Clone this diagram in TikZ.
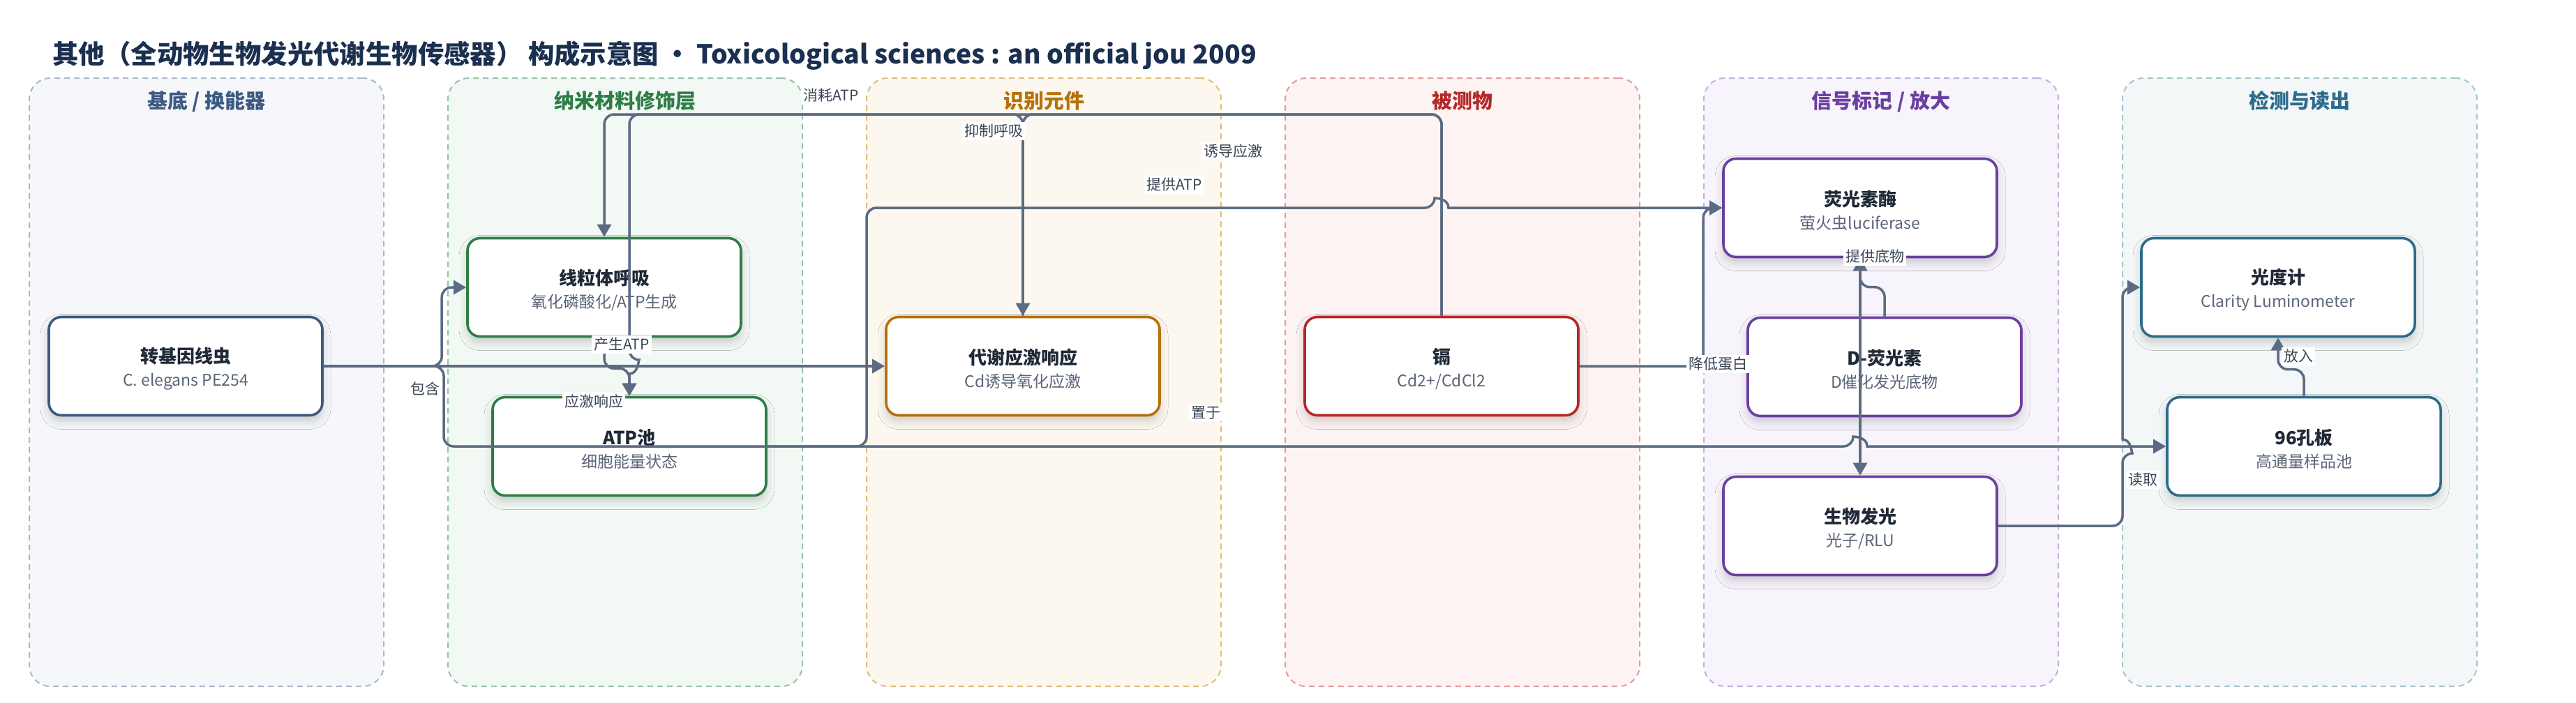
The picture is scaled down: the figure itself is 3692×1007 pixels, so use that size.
\documentclass[tikz,border=0pt]{standalone}
\usepackage{fontspec}
\setmainfont{Noto Sans CJK SC}
\usetikzlibrary{arrows.meta,calc,shadows.blur}
\definecolor{edgec}{HTML}{5B6B82}
\definecolor{titlec}{HTML}{1B3050}
\definecolor{txtdark}{HTML}{1F2937}
\definecolor{txtsub}{HTML}{5A6577}
\definecolor{lblc}{HTML}{3A4556}
% lane colours
\definecolor{aT}{HTML}{3D5A80}\definecolor{aB}{HTML}{A9B7CC}\definecolor{aF}{HTML}{F5F7FB}
\definecolor{bT}{HTML}{2E7D46}\definecolor{bB}{HTML}{96C3A6}\definecolor{bF}{HTML}{F2F8F4}
\definecolor{cT}{HTML}{B7700A}\definecolor{cB}{HTML}{E3BB78}\definecolor{cF}{HTML}{FDF8EF}
\definecolor{dT}{HTML}{B52828}\definecolor{dB}{HTML}{E39B9B}\definecolor{dF}{HTML}{FDF3F2}
\definecolor{eT}{HTML}{6B3FA0}\definecolor{eB}{HTML}{C5AEE0}\definecolor{eF}{HTML}{F7F4FB}
\definecolor{fT}{HTML}{2C6B8A}\definecolor{fB}{HTML}{A6C4CF}\definecolor{fF}{HTML}{F3F7F8}
\newcommand{\ntitle}[1]{{\fontsize{13}{16.5}\selectfont\bfseries\color{txtdark}\rule{0pt}{15pt}#1}}
\newcommand{\nsub}[1]{{\color{txtsub}#1}}
\begin{document}
\begin{tikzpicture}[x=0.5pt,y=-0.5pt,
  lanebox/.style 2 args={rectangle, rounded corners=15pt, dashed, dash pattern=on 4pt off 3pt,
     line width=1pt, draw=#2, fill=#1, minimum width=254pt, minimum height=436pt, inner sep=0pt},
  lanetitle/.style={anchor=base, font=\fontsize{14.5}{16}\selectfont\bfseries, text=#1},
  nodebox/.style={rectangle, rounded corners=9pt, draw=#1, line width=1.8pt, fill=white,
     minimum width=196pt, minimum height=70.5pt, align=center, inner sep=0pt,
     font=\fontsize{11.5}{16.5}\selectfont,
     blur shadow={shadow xshift=0pt, shadow yshift=-4pt, shadow blur radius=6pt, shadow opacity=18}},
  edge/.style={draw=edgec, line width=1.75pt, rounded corners=7pt, -{Triangle[width=10pt,length=9pt]}},
  elabel/.style={fill=white, inner sep=1.5pt, text=lblc, font=\fontsize{10.5}{12}\selectfont}
]
\useasboundingbox (0,0) rectangle (3692,1007);
\fill[white] (0,0) rectangle (3692,1007);

% title
\node[anchor=base west, font=\fontsize{18.7}{22}\selectfont\bfseries, text=titlec, inner sep=0pt] (title) at (75,91)
  {其他（全动物生物发光代谢生物传感器） 构成示意图 • Toxicological sciences : an official jou 2009};

% lanes
\node[lanebox={aF}{aB}] (lane1) at (296,548) {};
\node[lanebox={bF}{bB}] (lane2) at (896,548) {};
\node[lanebox={cF}{cB}] (lane3) at (1496,548) {};
\node[lanebox={dF}{dB}] (lane4) at (2096,548) {};
\node[lanebox={eF}{eB}] (lane5) at (2696,548) {};
\node[lanebox={fF}{fB}] (lane6) at (3296,548) {};
\node[lanetitle=aT] (lt1) at (296,155) {基底 / 换能器};
\node[lanetitle=bT] (lt2) at (896,155) {纳米材料修饰层};
\node[lanetitle=cT] (lt3) at (1496,155) {识别元件};
\node[lanetitle=dT] (lt4) at (2096,155) {被测物};
\node[lanetitle=eT] (lt5) at (2696,155) {信号标记 / 放大};
\node[lanetitle=fT] (lt6) at (3296,155) {检测与读出};

% nodes
\node[nodebox=aT] (worm) at (266,525) {\ntitle{转基因线虫}\\\nsub{C. elegans PE254}};
\node[nodebox=bT] (mito) at (866,412) {\ntitle{线粒体呼吸}\\\nsub{氧化磷酸化/ATP生成}};
\node[nodebox=bT] (atp) at (902,640) {\ntitle{ATP池}\\\nsub{细胞能量状态}};
\node[nodebox=cT] (stress) at (1466,525) {\ntitle{代谢应激响应}\\\nsub{Cd诱导氧化应激}};
\node[nodebox=dT] (cd) at (2066,525) {\ntitle{镉}\\\nsub{Cd2+/CdCl2}};
\node[nodebox=eT] (luc) at (2666,298) {\ntitle{荧光素酶}\\\nsub{萤火虫luciferase}};
\node[nodebox=eT] (dluc) at (2701,526) {\ntitle{D-荧光素}\\\nsub{D催化发光底物}};
\node[nodebox=eT] (gen) at (2666,754) {\ntitle{生物发光}\\\nsub{光子/RLU}};
\node[nodebox=fT] (photo) at (3265,412) {\ntitle{光度计}\\\nsub{Clarity Luminometer}};
\node[nodebox=fT] (plate) at (3302,640) {\ntitle{96孔板}\\\nsub{高通量样品池}};

\coordinate (ty) at (0,164);

% edges
\draw[edge] (worm.east) -| ($(mito.west)+(-35,0)$) -- (mito.west);
\draw[edge] (worm.east) -- (stress.west);
\draw[edge] (worm.east) -| (636,640) -- (2656,640) [sharp corners]
   .. controls (2656,626) and (2676,626) .. (2676,640) -- (plate.west);
\draw[edge] (mito.south) -- ++(0,44) -| (atp.north);
\draw[edge] (stress.north) -- (stress.north |- ty) -| (902,516) [sharp corners]
   .. controls (915,516) and (915,536) .. (902,536) -- (atp.north);
\draw[edge] (cd.north) -- (cd.north |- ty) -| (mito.north);
\draw[edge] (cd.north) -- (cd.north |- ty) -| (stress.north);
\draw[edge] (atp.east) -| (1242,298) -- (2056,298) [sharp corners]
   .. controls (2056,284) and (2076,284) .. (2076,298) -- (luc.west);
\draw[edge] (cd.east) -| ($(luc.west)+(-27,0)$) -- (luc.west);
\draw[edge] (dluc.north) -- ++(0,-42) -| (luc.south);
\draw[edge] (luc.south) -- (gen.north);
\draw[edge] (gen.east) -| (3042,650) [sharp corners]
   .. controls (3055,650) and (3055,630) .. (3042,630) [rounded corners=7pt] |- (photo.west);
\draw[edge] (plate.north) -- ++(0,-38) -| (photo.south);

% edge labels
\node[elabel] (l1) at (609,557) {包含};
\node[elabel] (l2) at (891,494) {产生ATP};
\node[elabel] (l3) at (851,575) {应激响应};
\node[elabel] (l4) at (1191,137) {消耗ATP};
\node[elabel] (l5) at (1424,188) {抑制呼吸};
\node[elabel] (l6) at (1767,217) {诱导应激};
\node[elabel] (l7) at (1683,265) {提供ATP};
\node[elabel] (l8) at (1728,592) {置于};
\node[elabel] (l9) at (2462,522) {降低蛋白};
\node[elabel] (l10) at (2687,368) {提供底物};
\node[elabel] (l11) at (3071,688) {读取};
\node[elabel] (l12) at (3294,511) {放入};
\end{tikzpicture}
\end{document}
